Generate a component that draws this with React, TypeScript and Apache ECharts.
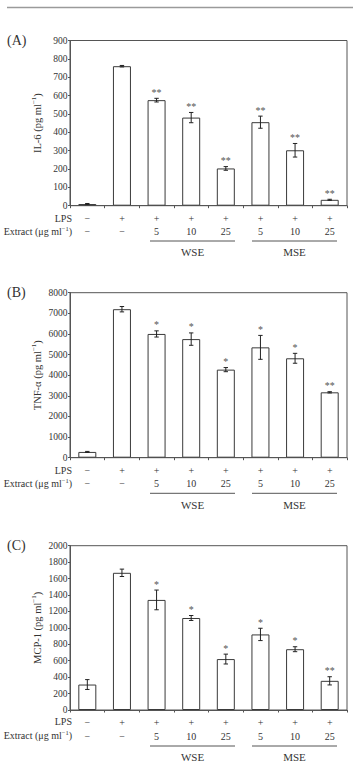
import React, { useEffect, useRef } from "react";
import * as echarts from "echarts";

// Treatment rows shown under each panel
const lpsRow = ["−", "+", "+", "+", "+", "+", "+", "+"];
const extractRow = ["−", "−", "5", "10", "25", "5", "10", "25"];
const slots = ["0", "1", "2", "3", "4", "5", "6", "7"];

// (A) IL-6
const il6Mean = [9, 760, 575, 480, 203, 455, 302, 32];
const il6Err = [3, 4, 10, 28, 10, 33, 37, 3];
const il6Sig = ["", "", "**", "**", "**", "**", "**", "**"];

// (B) TNF-α
const tnfMean = [280, 7200, 6000, 5750, 4270, 5350, 4820, 3170];
const tnfErr = [25, 130, 150, 300, 100, 580, 240, 30];
const tnfSig = ["", "", "*", "*", "*", "*", "*", "**"];

// (C) MCP-1
const mcpMean = [310, 1670, 1340, 1120, 620, 920, 740, 355];
const mcpErr = [60, 45, 120, 30, 60, 75, 30, 50];
const mcpSig = ["", "", "*", "*", "*", "*", "*", "**"];

const FONT = "Liberation Serif";
const TEXT = "#333";
const AXIS = "#555";

const panels = [
  { letter: "(A)", title: "IL-6 (pg ml{sup|−1})", max: 900, interval: 100, top: 40.5, height: 165.2, mean: il6Mean, err: il6Err, sig: il6Sig },
  { letter: "(B)", title: "TNF-α (pg ml{sup|−1})", max: 8000, interval: 1000, top: 292.7, height: 165, mean: tnfMean, err: tnfErr, sig: tnfSig },
  { letter: "(C)", title: "MCP-1 (pg ml{sup|−1})", max: 2000, interval: 200, top: 545.7, height: 164.3, mean: mcpMean, err: mcpErr, sig: mcpSig },
];

const GRID_LEFT = 70;
const GRID_WIDTH = 277;

export default function App() {
  const ref = useRef<HTMLDivElement>(null);

  useEffect(() => {
    if (!ref.current) return;
    const chart = echarts.init(ref.current, null, { renderer: "svg" });

    const grid = panels.map((p) => ({
      left: GRID_LEFT,
      top: p.top,
      width: GRID_WIDTH,
      height: p.height,
      show: true,
      borderColor: AXIS,
      borderWidth: 1,
      backgroundColor: "transparent",
    }));

    const xAxis = panels.map((_, k) => ({
      type: "category",
      gridIndex: k,
      data: slots,
      axisLine: { lineStyle: { color: AXIS, width: 1 } },
      axisTick: { show: true, length: 2.5, lineStyle: { color: AXIS } },
      axisLabel: {
        margin: 6,
        fontFamily: FONT,
        fontSize: 10,
        color: TEXT,
        lineHeight: 13.4,
        formatter: (_v: string, i: number) => `${lpsRow[i]}\n${extractRow[i]}`,
      },
    }));

    const yAxis = panels.map((p, k) => ({
      type: "value",
      gridIndex: k,
      min: 0,
      max: p.max,
      interval: p.interval,
      splitLine: { show: false },
      axisLine: { show: true, lineStyle: { color: AXIS, width: 1 } },
      axisTick: { show: true, length: 2, lineStyle: { color: AXIS } },
      axisLabel: {
        margin: 2.5,
        fontFamily: FONT,
        fontSize: 9.5,
        color: TEXT,
        formatter: (v: number) => String(v),
      },
    }));

    const series: any[] = [];
    panels.forEach((p, k) => {
      series.push({
        type: "bar",
        xAxisIndex: k,
        yAxisIndex: k,
        data: p.mean,
        barWidth: 18,
        itemStyle: { color: "#fff", borderColor: "#3a3a3a", borderWidth: 1 },
        z: 2,
      });
      series.push({
        type: "custom",
        xAxisIndex: k,
        yAxisIndex: k,
        data: p.mean.map((m, i) => [i, m, p.err[i]]),
        encode: { x: 0, y: 1 },
        z: 5,
        renderItem: (params: any, api: any) => {
          const i = api.value(0);
          const m = api.value(1);
          const e = api.value(2);
          const hi = api.coord([i, m + e]);
          const lo = api.coord([i, m - e]);
          const cap = 2.2;
          const stroke = { stroke: "#222", lineWidth: 1 };
          const children: any[] = [
            { type: "line", shape: { x1: hi[0], y1: hi[1], x2: lo[0], y2: lo[1] }, style: stroke },
            { type: "line", shape: { x1: hi[0] - cap, y1: hi[1], x2: hi[0] + cap, y2: hi[1] }, style: stroke },
            { type: "line", shape: { x1: lo[0] - cap, y1: lo[1], x2: lo[0] + cap, y2: lo[1] }, style: stroke },
          ];
          const s = p.sig[params.dataIndex];
          if (s) {
            children.push({
              type: "text",
              x: hi[0],
              y: hi[1] - 1,
              style: { text: s, fill: "#555", fontFamily: FONT, fontSize: 10, align: "center", verticalAlign: "bottom" },
            });
          }
          return { type: "group", children };
        },
      });
    });

    // Axis titles, row headers, group brackets and panel letters
    const graphic: any[] = [
      { type: "line", shape: { x1: 7, y1: 7.5, x2: 353, y2: 7.5 }, style: { stroke: "#9a9a9a", lineWidth: 1.5 } },
    ];
    const rowY = [
      { lps: 218.3, ext: 231.7, rule: 241, grp: 252 },
      { lps: 470.3, ext: 483.5, rule: 493.3, grp: 505 },
      { lps: 721.7, ext: 735.5, rule: 746, grp: 756.7 },
    ];
    panels.forEach((p, k) => {
      const r = rowY[k];
      graphic.push(
        {
          type: "text",
          x: 37.5,
          y: p.top + p.height / 2,
          rotation: Math.PI / 2,
          style: {
            text: p.title,
            fill: TEXT,
            fontFamily: FONT,
            fontSize: 10.5,
            align: "center",
            verticalAlign: "middle",
            lineHeight: 14,
            rich: { sup: { fontFamily: FONT, fontSize: 7, fill: TEXT, verticalAlign: "top", lineHeight: 14 } },
          },
        },
        { type: "text", x: 7, y: p.top, style: { text: p.letter, fill: TEXT, fontFamily: FONT, fontSize: 14, align: "left", verticalAlign: "middle" } },
        { type: "text", x: 72, y: r.lps, style: { text: "LPS", fill: TEXT, fontFamily: FONT, fontSize: 10, align: "right", verticalAlign: "middle" } },
        {
          type: "text",
          x: 72,
          y: r.ext,
          style: {
            text: "Extract (μg ml{sup|−1})",
            fill: TEXT,
            fontFamily: FONT,
            fontSize: 10,
            align: "right",
            verticalAlign: "middle",
            lineHeight: 13,
            rich: { sup: { fontFamily: FONT, fontSize: 6.5, fill: TEXT, verticalAlign: "top", lineHeight: 13 } },
          },
        },
        { type: "line", shape: { x1: 150, y1: r.rule, x2: 235, y2: r.rule }, style: { stroke: "#555", lineWidth: 1 } },
        { type: "line", shape: { x1: 252, y1: r.rule, x2: 337, y2: r.rule }, style: { stroke: "#555", lineWidth: 1 } },
        { type: "text", x: 192.5, y: r.grp, style: { text: "WSE", fill: TEXT, fontFamily: FONT, fontSize: 11, align: "center", verticalAlign: "middle" } },
        { type: "text", x: 294.5, y: r.grp, style: { text: "MSE", fill: TEXT, fontFamily: FONT, fontSize: 11, align: "center", verticalAlign: "middle" } }
      );
    });

    chart.setOption({
      animation: false,
      backgroundColor: "#fff",
      grid,
      xAxis,
      yAxis,
      series,
      graphic,
    });

    return () => chart.dispose();
  }, []);

  return (
    <div
      ref={ref}
      style={{ position: "absolute", left: 0, top: 0, width: 353, height: 762, background: "#fff" }}
    />
  );
}
